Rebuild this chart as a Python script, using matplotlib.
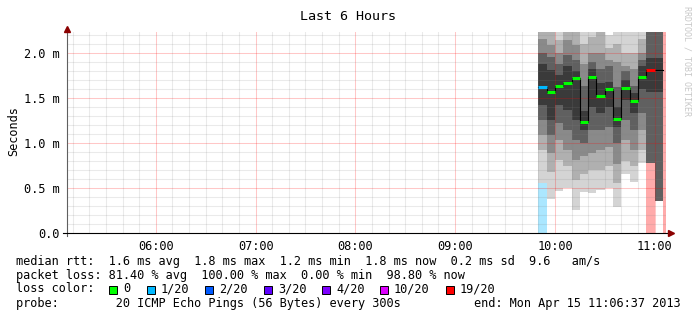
"""SmokePing style 'Last 6 Hours' latency chart, redrawn with matplotlib."""
import matplotlib
matplotlib.use("Agg")
import matplotlib.pyplot as plt
from matplotlib.lines import Line2D
from matplotlib.patches import Rectangle
from matplotlib.ticker import MultipleLocator

# ---- data (latency values in ms, shown on the axis as "m" seconds) ----
col_times = ["09:50", "09:55", "10:00", "10:05", "10:10", "10:15", "10:20", "10:25",
             "10:30", "10:35", "10:40", "10:45", "10:50", "10:55", "11:00"]
median_ms = [1.622, 1.567, 1.630, 1.670, 1.719, 1.237, 1.737, 1.519,
             1.600, 1.267, 1.611, 1.470, 1.737, 1.811, 1.811]
loss_pings = [1, 0, 0, 0, 0, 0, 0, 0, 0, 0, 0, 0, 0, 19, None]

# smoke bands, outermost -> innermost (low / high edge per column)
smoke_lo = [[0.56, 0.92, 1.09, 1.25, 1.42],
            [0.38, 0.68, 0.89, 1.09, 1.26],
            [0.47, 0.81, 1.03, 1.22, 1.42],
            [0.50, 0.74, 0.92, 1.14, 1.37],
            [0.26, 0.59, 0.81, 1.03, 1.26],
            [0.46, 0.66, 0.85, 1.00, 1.14],
            [0.44, 0.70, 0.89, 1.14, 1.40],
            [0.48, 0.70, 0.92, 1.14, 1.33],
            [0.50, 0.74, 0.96, 1.18, 1.40],
            [0.29, 0.55, 0.77, 1.00, 1.18],
            [0.66, 0.80, 1.03, 1.26, 1.48],
            [0.57, 0.74, 0.92, 1.14, 1.33],
            [0.78, 0.92, 1.14, 1.33, 1.60],
            [0.78, 0.78, 0.78, 0.78, 1.57],
            [0.35, 0.35, 0.35, 0.35, 1.57]]
smoke_hi = [[2.50, 2.30, 2.15, 2.00, 1.88],
            [2.50, 2.23, 2.09, 1.96, 1.81],
            [2.30, 2.14, 2.00, 1.88, 1.75],
            [2.50, 2.40, 2.14, 1.98, 1.85],
            [2.50, 2.30, 2.09, 1.92, 1.80],
            [2.50, 2.10, 1.88, 1.63, 1.35],
            [2.30, 2.18, 2.00, 1.90, 1.82],
            [2.50, 2.25, 2.00, 1.82, 1.67],
            [2.20, 2.05, 1.92, 1.85, 1.68],
            [2.30, 2.10, 1.90, 1.62, 1.40],
            [2.40, 2.00, 1.85, 1.80, 1.70],
            [2.40, 2.00, 1.82, 1.63, 1.55],
            [2.30, 2.15, 2.00, 1.92, 1.85],
            [2.50, 2.50, 2.50, 2.50, 1.94],
            [2.50, 2.50, 2.50, 2.50, 1.94]]

# loss background columns (pings lost out of 20)
bg_times = ["09:50", "10:55", "11:05"]
bg_loss = [1, 19, 20]

loss_thresholds = [0, 1, 2, 3, 4, 10, 19]
loss_labels = ["0", "1/20", "2/20", "3/20", "4/20", "10/20", "19/20"]
loss_colors = ["#00ff00", "#00b8ff", "#0059ff", "#5e00ff", "#7e00ff", "#dd00ff", "#ff0000"]

hour_labels = ["06:00", "07:00", "08:00", "09:00", "10:00", "11:00"]
stats_lines = [
    "median rtt:  1.6 ms avg  1.8 ms max  1.2 ms min  1.8 ms now  0.2 ms sd  9.6   am/s",
    "packet loss: 81.40 % avg  100.00 % max  0.00 % min  98.80 % now",
]
probe_text = "probe:        20 ICMP Echo Pings (56 Bytes) every 300s"
end_text = "end: Mon Apr 15 11:06:37 2013"

T_START, T_END = "05:06:37", "11:06:37"
STEP = 5  # minutes per column
SMOKE_GREYS = ["#d4d4d4", "#b0b0b0", "#8a8a8a", "#606060", "#3a3a3a"]
MONO = "DejaVu Sans Mono"
FS = 8.55
W, H = 697, 321


def minutes(t):
    parts = [int(p) for p in t.split(":")]
    while len(parts) < 3:
        parts.append(0)
    return parts[0] * 60 + parts[1] + parts[2] / 60


def loss_color(n):
    c = loss_colors[0]
    for th, col in zip(loss_thresholds, loss_colors):
        if n >= th:
            c = col
    return c


def fx(px):
    return px / W


def fy(py):
    return 1 - py / H


plt.rcParams["font.family"] = MONO
fig = plt.figure(figsize=(W / 100, H / 100), dpi=100)
ax = fig.add_axes([fx(67), fy(233), (665.7 - 67) / W, (233 - 32) / H])
ax.set_xlim(minutes(T_START), minutes(T_END))
ax.set_ylim(0, 2.233)

# loss backgrounds first, smoke paints over them
for t, n in zip(bg_times, bg_loss):
    ax.bar(minutes(t), 10, width=STEP, align="edge", color=loss_color(n),
           alpha=0.33, linewidth=0, zorder=1)

starts = [minutes(t) for t in col_times]
for level, grey in enumerate(SMOKE_GREYS):
    lo = [row[level] for row in smoke_lo]
    hi = [row[level] for row in smoke_hi]
    ax.bar(starts, [h - l for h, l in zip(hi, lo)], bottom=lo, width=STEP,
           align="edge", color=grey, linewidth=0, zorder=1.5)

# median: black step line, coloured dash per column by loss
ax.plot(starts + [starts[-1] + STEP], median_ms + [median_ms[-1]],
        drawstyle="steps-post", color="black", lw=0.8, zorder=4)
for s, m, n in zip(starts, median_ms, loss_pings):
    if n is None:
        continue
    ax.hlines(m, s, s + STEP, color=loss_color(n), lw=2.2, zorder=5)

# grid on top of the smoke, like rrdtool
ax.set_xticks([minutes(h) for h in hour_labels])
ax.set_xticklabels(hour_labels)
ax.xaxis.set_minor_locator(MultipleLocator(10))
ax.set_yticks([0, 0.5, 1.0, 1.5, 2.0])
ax.set_yticklabels(["0.0", "0.5 m", "1.0 m", "1.5 m", "2.0 m"])
ax.yaxis.set_minor_locator(MultipleLocator(0.1))
ax.set_axisbelow(False)
ax.grid(which="minor", color="#808080", alpha=0.16, lw=0.75)
ax.grid(which="major", color="#ff0000", alpha=0.22, lw=0.75)
ax.tick_params(which="both", length=0, labelsize=FS, colors="black")
ax.tick_params(axis="x", pad=5)
ax.tick_params(axis="y", pad=5)
for sp in ax.spines.values():
    sp.set_visible(False)

# axis lines with arrowheads
tf = fig.transFigure
fig.add_artist(Line2D([fx(67), fx(67)], [fy(236), fy(29)], color="#606060", lw=0.8, transform=tf))
fig.add_artist(Line2D([fx(63), fx(670)], [fy(233.3), fy(233.3)], color="black", lw=0.8, transform=tf))
fig.add_artist(Line2D([fx(67)], [fy(28.5)], marker="^", ms=4, color="#8b0000", transform=tf))
fig.add_artist(Line2D([fx(671)], [fy(233.3)], marker=">", ms=4, color="#8b0000", transform=tf))

fig.text(0.5, fy(16), "Last 6 Hours", ha="center", va="center", fontsize=9.6)
fig.text(fx(14), fy(131), "Seconds", rotation=90, ha="center", va="center", fontsize=FS)
fig.text(fx(687), fy(61), "RRDTOOL / TOBI OETIKER", rotation=270, ha="center",
         va="center", fontsize=6, color="#c8c8c8")

# legend block
for i, line in enumerate(stats_lines):
    fig.text(fx(16), fy(261 + 14 * i), line, ha="left", va="center", fontsize=FS)
fig.text(fx(16), fy(289), "loss color:", ha="left", va="center", fontsize=FS)
box_x = [109, 147, 205, 264, 322, 380, 446]
for bx, lab, col in zip(box_x, loss_labels, loss_colors):
    fig.add_artist(Rectangle((fx(bx), fy(293.5)), 8 / W, 8 / H, facecolor=col,
                             edgecolor="black", lw=0.7, transform=tf))
    fig.text(fx(bx + 14), fy(289), lab, ha="left", va="center", fontsize=FS)
fig.text(fx(16), fy(303), probe_text, ha="left", va="center", fontsize=FS)
fig.text(fx(681), fy(303), end_text, ha="right", va="center", fontsize=FS)

fig.savefig("out.png", dpi=100)
